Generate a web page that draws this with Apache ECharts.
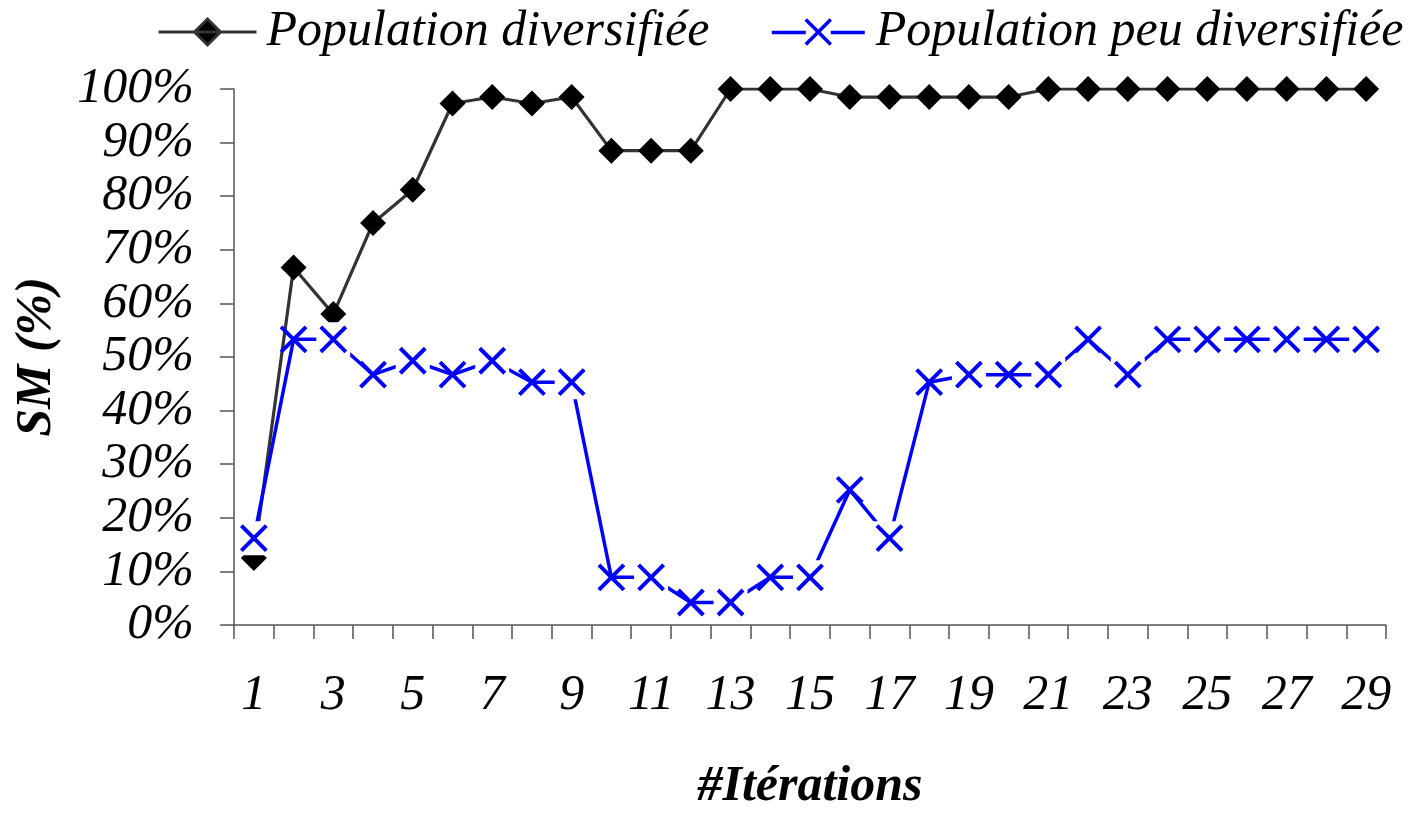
<!DOCTYPE html>
<html>
<head>
<meta charset="utf-8">
<script src="https://cdn.jsdelivr.net/npm/echarts@6/dist/echarts.min.js"></script>
<style>
html,body{margin:0;padding:0;background:#fff;overflow:hidden;}
#chart{width:1410px;height:817px;}
</style>
</head>
<body>
<div id="chart"></div>
<script>
const categories = ['1','2','3','4','5','6','7','8','9','10','11','12','13','14','15','16','17','18','19','20','21','22','23','24','25','26','27','28','29'];
const diversifiee = [12.5,66.7,58.0,75.0,81.2,97.3,98.5,97.3,98.5,88.5,88.5,88.5,100,100,100,98.5,98.5,98.5,98.5,98.5,100,100,100,100,100,100,100,100,100];
const peuDiversifiee = [16.2,53.3,53.3,46.7,49.3,46.7,49.3,45.3,45.3,8.9,8.9,4.2,4.2,8.9,8.9,25.2,16.2,45.3,46.7,46.7,46.7,53.3,46.7,53.3,53.3,53.3,53.3,53.3,53.3];
const seriesNames = ['Population diversifiée','Population peu diversifiée'];
const yTicks = {min:0, max:100, interval:10};

const FONT = 'Liberation Serif';
const FS = 50;
const chart = echarts.init(document.getElementById('chart'), null, {renderer:'canvas'});
const xPath = 'path://M0,0 L25,25 M25,0 L0,25';
chart.setOption({
  animation:false,
  backgroundColor:'#fff',
  grid:{left:234,right:24,top:89,bottom:178,containLabel:false},
  legend:[
    {left:157, top:7, padding:0, itemWidth:98, itemHeight:26, selectedMode:false,
     textStyle:{fontFamily:FONT,fontStyle:'italic',fontSize:FS,color:'#000',padding:[0,0,0,5]},
     data:[{name:seriesNames[0], icon:'path://M0,13 L98,13 M49,0 L62,13 L49,26 L36,13 Z',
            itemStyle:{color:'#000',borderColor:'#333',borderWidth:3}}]},
    {left:770, top:7, padding:0, itemWidth:93, itemHeight:26, selectedMode:false,
     textStyle:{fontFamily:FONT,fontStyle:'italic',fontSize:FS,color:'#000',padding:[0,0,0,6]},
     data:[{name:seriesNames[1], icon:'path://M0,13 L34,13 M34,0 L59,25 M59,0 L34,25 M59,13 L93,13',
            itemStyle:{color:'rgba(0,0,0,0)',borderColor:'#0000ff',borderWidth:3.5}}]}
  ],
  xAxis:{
    type:'category', data:categories, boundaryGap:true,
    name:'#Itérations', nameLocation:'middle', nameGap:137,
    nameTextStyle:{fontFamily:FONT,fontStyle:'italic',fontWeight:'bold',fontSize:FS,color:'#000'},
    axisLine:{lineStyle:{color:'#555',width:1.5}},
    axisTick:{show:true,interval:0,length:14,lineStyle:{color:'#555',width:1.5}},
    axisLabel:{interval:1,margin:46,fontFamily:FONT,fontStyle:'italic',fontSize:FS,color:'#000'},
    splitLine:{show:false}
  },
  yAxis:{
    type:'value', min:yTicks.min, max:yTicks.max, interval:yTicks.interval,
    name:'SM (%)', nameLocation:'middle', nameGap:172,
    nameTextStyle:{fontFamily:FONT,fontStyle:'italic',fontWeight:'bold',fontSize:FS,color:'#000'},
    axisLine:{show:true,lineStyle:{color:'#555',width:1.5}},
    axisTick:{show:true,length:14,lineStyle:{color:'#555',width:1.5}},
    axisLabel:{margin:40,formatter:'{value}%',fontFamily:FONT,fontStyle:'italic',fontSize:FS,color:'#000'},
    splitLine:{show:false}
  },
  series:[
    {name:seriesNames[0], type:'line', data:diversifiee, symbol:'diamond', symbolSize:26,
     itemStyle:{color:'#000'}, lineStyle:{color:'#333',width:3.2}, silent:true},
    {name:seriesNames[1], type:'line', data:peuDiversifiee, symbol:'rect', symbolSize:34,
     itemStyle:{color:'#fff'}, lineStyle:{color:'#0000ff',width:3.5}, silent:true},
    {name:'_x', type:'line', data:peuDiversifiee, symbol:xPath, symbolSize:25,
     itemStyle:{color:'rgba(0,0,0,0)',borderColor:'#0000ff',borderWidth:4},
     lineStyle:{width:0,opacity:0}, silent:true}
  ]
});
</script>
</body>
</html>
